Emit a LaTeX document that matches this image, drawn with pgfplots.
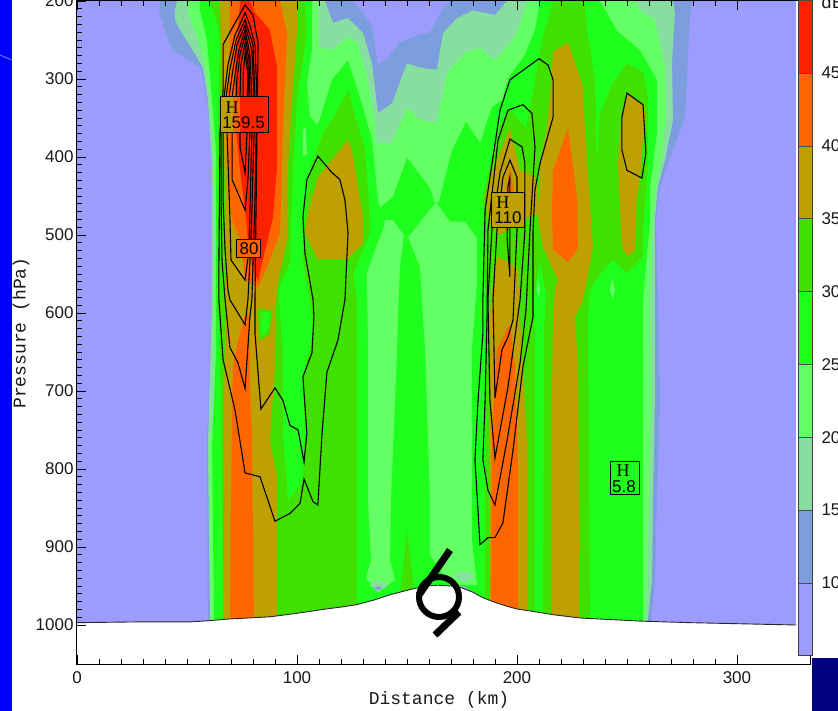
\documentclass[border=0pt]{standalone}
\usepackage{fontspec}
\usepackage{pgfplots}
\pgfplotsset{compat=1.18}
\setmainfont{Liberation Sans}
\newfontfamily\labfont{Liberation Mono}
\newfontfamily\hfont{Liberation Serif}
\definecolor{c05}{RGB}{156,156,255}
\definecolor{c10}{RGB}{124,158,222}
\definecolor{c15}{RGB}{134,222,160}
\definecolor{c20}{RGB}{100,255,100}
\definecolor{c25}{RGB}{30,255,30}
\definecolor{c30}{RGB}{64,224,0}
\definecolor{c35}{RGB}{190,160,0}
\definecolor{c40}{RGB}{255,102,0}
\definecolor{c45}{RGB}{255,34,0}
\newcommand\poly[2]{\addplot[fill=#1,draw=none,forget plot] coordinates {#2} -- cycle;}
\newcommand\cont[1]{\addplot[black,line width=1.1pt,forget plot] coordinates {#1} -- cycle;}
\newcommand\lab[4]{\addplot[draw=black,line width=0.9pt,forget plot] coordinates {(#1,#3)(#2,#3)(#2,#4)(#1,#4)} -- cycle;}
\newcommand\fs[1]{\fontsize{#1}{#1}\selectfont}
\begin{document}
\begin{tikzpicture}
\path[use as bounding box] (0,0) rectangle (838pt,711pt);
\clip (0,0) rectangle (838pt,711pt);
\fill[white] (0,0) rectangle (838pt,711pt);
\fill[blue] (0,0) rectangle (11.5pt,711pt);
\draw[color=blue!55!white,line width=1pt] (0,656pt) -- (11.5pt,651pt);
\fill[black!0!blue!50!black] (812pt,0) rectangle (838pt,53pt);
\begin{axis}[
  at={(77pt,47pt)},anchor=south west,scale only axis,width=733pt,height=663pt,
  xmin=0,xmax=333.2,ymin=200,ymax=1050,y dir=reverse,
  xtick={0,100,200,300},ytick={200,300,400,500,600,700,800,900,1000},
  minor x tick num=9,minor y tick num=9,
  tick align=inside,major tick length=9pt,minor tick length=5pt,
  tick style={black,line width=0.8pt},
  axis line style={black,line width=1pt},
  axis on top,no marks,
  tick label style={font=\fs{17},text=black!90},
  /pgf/number format/assume math mode=true,
  /pgf/number format/1000 sep={},
  xticklabel style={yshift=-4pt},
]
\poly{c05}{(0,200)(327,200)(327,1007)(0,1007)}
\poly{c10}{(37.7,200)(37.3,214)(43.2,263)(50,274)(56.4,286)(59.1,327)(61.8,413)(61.4,583)(59.1,769)(59.5,1007)(260.5,1007)(262.7,942)(263.6,840)(265,712)(264.1,583)(263.2,481)(265,438)(270.9,391)(276.4,349)(278.6,221)(279.5,200)(169.5,200)(166.4,209)(160.5,240)(153.6,245)(146.8,253)(141.4,272)(136.8,282)(134.1,233)(130,214)(125,200)}
\poly{c15}{(45.5,200)(44.5,212)(44.5,224)(47.7,241)(54.5,272)(57.3,286)(59.5,327)(61.4,413)(61.4,583)(59.5,769)(60.5,1007)(259,1007)(261.4,942)(261.8,840)(262.7,712)(262.7,583)(262.7,481)(264.1,438)(267.3,404)(270.9,353)(270.5,276)(271.8,215)(270.9,200)(195.5,200)(190,218)(180,212)(172.7,222)(166.4,241)(163.6,288)(156.8,286)(150,280)(143.2,331)(136.8,344)(134.1,280)(130,241)(123.2,222)(116.4,228)(112.7,200)}
\poly{c20}{(50.5,200)(50.5,215)(55.9,256)(58.2,285)(60.5,327)(62.3,413)(62.7,519)(61.8,583)(62.3,737)(60,769)(60.9,1007)(258.2,1007)(259.5,942)(260,840)(260.9,712)(260.5,583)(261.8,481)(263.6,433)(265.9,400)(267.7,349)(267.3,285)(262.7,224)(255.9,212)(253.6,200)(204.5,200)(202.3,224)(198.2,250)(190,276)(183.2,260)(176.4,267)(168.2,292)(163.6,356)(155.9,353)(150,336)(143.2,382)(136.4,382)(135.5,356)(131.8,297)(127.7,254)(123.2,246)(116.4,262)(110,260)(109.5,200)}
\poly{c25}{(55.9,200)(55.9,212)(59.1,250)(61.4,327)(63.2,391)(63.2,647)(61.4,769)(62.3,1007)(257.3,1007)(257.3,583)(260.5,481)(260.5,438)(263.6,369)(263.6,301)(255.9,263)(245.5,238)(237.7,200)(210.5,200)(208.2,237)(203.6,269)(195.9,299)(193.2,327)(188.6,336)(183.2,382)(176.8,355)(170.5,391)(167.3,426)(164.5,458)(162.3,458)(160.5,440)(150,401)(143.6,451)(137.7,465)(136.8,455)(134.1,378)(130,336)(123.2,276)(115.9,301)(109.5,359)(105.9,349)(104.5,305)(106.8,263)(106.8,200)}
\poly{c20}{(140,481)(143.6,481)(148.6,500)(146.8,541)(145.9,605)(145.5,647)(142.7,840)(142.3,917)(144.5,942)(136.8,958)(131.4,940)(133.6,917)(132.3,840)(132.3,647)(131.8,549)(136.8,509)(139.1,494)}
\poly{c20}{(163.2,458)(169.5,483)(176.4,483)(181.8,504)(181.8,561)(179.5,647)(179.5,891)(181.8,949)(169.5,949)(160.5,910)(160.5,840)(158.2,647)(155.9,541)(150.5,503)}
\poly{c20}{(102.7,365)(104,363)(104.5,398)(102.7,398)}
\poly{c15}{(133.2,949)(136.8,942)(141.4,949)(136.8,958)}
\poly{c10}{(134.9,953)(136.8,950)(138.6,953)(136.8,955)}
\poly{c15}{(170.5,937)(175.5,931)(180.9,937)(176.4,944)}
\poly{c05}{(172.3,950)(176.4,951)(179.5,958)(175.9,958)}
\poly{c30}{(60.5,200)(64.1,231)(65,254)(64.1,369)(64.1,583)(65.5,712)(65.9,840)(66.4,1007)(127.3,1007)(127.3,647)(127.3,583)(125.5,551)(133.2,497)(133.2,477)(130.9,391)(123.2,314)(117.3,346)(111.8,369)(105.9,417)(103.6,468)(102.7,536)(105.9,583)(107.3,628)(102.7,682)(103.6,754)(102.3,818)(95.9,840)(93.6,754)(93.6,647)(91.4,570)(96.8,536)(97.7,455)(98.2,413)(100,327)(104.5,241)(103.6,200)}
\poly{c30}{(185.5,1007)(185.5,583)(184.5,451)(187.7,410)(192.3,359)(196.8,337)(200,350)(204.1,363)(207.3,314)(211.8,246)(216.4,200)(230.9,200)(231.8,237)(235.5,301)(236.4,408)(237.7,344)(243.6,305)(250,280)(257.3,291)(259.5,323)(259.5,408)(257.3,494)(257.3,528)(250,549)(243.6,532)(239.1,545)(233.2,570)(232.3,600)(233.2,1007)}
\poly{c25}{(210.5,535)(213.2,577)(212.3,622)(211.8,1007)(208.2,1007)(208.2,635)(207.3,583)}
\poly{c20}{(209,570)(209.5,554)(210.5,570)(209.9,580)}
\poly{c20}{(242.3,570)(243.2,555)(244.5,570)(243.6,583)}
\poly{c30}{(150,878)(152.3,929)(153.2,962)(146.8,962)(148.2,929)}
\poly{c35}{(65,200)(65.5,254)(65.9,327)(67.3,442)(67.7,583)(66.8,712)(66.8,1007)(90.9,1007)(90.9,810)(87.7,763)(90,669)(90.5,583)(91.4,561)(95.5,506)(95.9,413)(97.7,327)(100,241)(100,200)}
\poly{c30}{(82.3,594)(89.1,597)(87.3,628)(82.7,636)}
\poly{c25}{(83.6,597)(88.2,601)(86.4,624)(83.6,629)}
\poly{c35}{(123.2,378)(109.5,426)(105,472)(103.6,497)(109.5,532)(122.7,532)(130,510)(130,477)(125,391)}
\poly{c35}{(196.8,363)(187.7,426)(185.5,451)(187.7,487)(192.3,500)(203,480)(209.5,473)(209.5,427)(201.4,417)(199,390)}
\poly{c35}{(190.9,528)(187.7,596)(187.7,1007)(205,1007)(205,797)(203.6,712)(201.4,609)(200.5,545)(196.8,535)}
\poly{c35}{(223.2,253)(216.4,265)(215.9,292)(213.6,365)(210.5,408)(209.5,474)(210.5,494)(211.8,515)(218.6,558)(217.3,570)(216.4,596)(215.9,712)(215.9,1007)(228.6,1007)(228.6,917)(227.7,669)(226.4,605)(230,583)(233.2,536)(234.5,515)(230.9,365)(230,310)}
\poly{c35}{(250.5,318)(247.7,344)(245.9,408)(247.7,515)(250.5,528)(253.6,519)(254.5,451)(255.9,429)(258.2,344)(257.3,333)}
\poly{c40}{(69.5,200)(69.5,241)(68.6,327)(68.6,442)(70.5,481)(74.1,506)(76.4,558)(82.3,567)(87.7,532)(92.3,497)(93.6,369)(95.5,241)(92.3,200)}
\poly{c40}{(77.3,594)(73.2,635)(70.9,669)(70.5,712)(69.5,1007)(80.5,1007)(79.5,754)(78.6,690)(78.6,609)}
\poly{c40}{(196.8,412)(195,446)(198.6,446)}
\poly{c40}{(196.8,613)(199.1,669)(200.5,797)(200.5,1007)(188.2,1007)(188.6,754)(190.9,647)}
\poly{c40}{(223.2,362)(216.4,417)(215.9,472)(216.4,519)(223.2,535)(227.7,517)(227.3,451)}
\poly{c45}{(74.1,200)(73.2,237)(71.8,288)(72.3,365)(74.1,417)(76.4,468)(77.7,506)(79.5,539)(82.3,559)(84.1,536)(89.1,477)(90.9,413)(90.9,285)(87.7,237)(80.9,215)(78.6,200)}
% terrain
\addplot[fill=white,draw=none,forget plot] coordinates {(0,997)(28.6,996)(51.4,996)(60,994.5)(68,992.5)(78,991)(87.7,989.5)(100,985)(111.8,980)(120,977)(127,974)(135,968)(142,961.5)(148,957)(154.5,952.5)(159,950)(164,949)(170,950)(175,952.5)(180,958)(184.5,965)(190,971)(195.5,976)(200,979.5)(206,982)(217,987)(228.6,991)(256,995)(278.6,997)(327,1000)(327,1051)(0,1051)} -- cycle;
\addplot[black!85,line width=0.9pt,forget plot] coordinates {(0,997)(28.6,996)(51.4,996)(60,994.5)(68,992.5)(78,991)(87.7,989.5)(100,985)(111.8,980)(120,977)(127,974)(135,968)(142,961.5)(148,957)(154.5,952.5)(159,950)(164,949)(170,950)(175,952.5)(180,958)(184.5,965)(190,971)(195.5,976)(200,979.5)(206,982)(217,987)(228.6,991)(256,995)(278.6,997)(327,1000)};
% contours, right column
\cont{(183.2,897)(180.9,788)(182.3,712)(184.5,626)(184.5,583)(185.5,468)(192.3,340)(196.8,301)(210,274)(214.1,282)(216.4,301)(216.4,349)(210.5,408)(208.2,442)(207.3,494)(207.3,596)(207.3,605)(202.7,669)(198.2,776)(193.6,869)(190,888)(186.8,888)}
\cont{(195.9,340)(202.7,333)(206.8,344)(208.2,387)(205.9,494)(204.1,596)(201.4,664)(195.5,763)(190,846)(186.8,827)(184.5,788)(185.5,712)(186.4,605)(186.8,494)(191.4,378)}
\cont{(196.8,377)(202.3,387)(203.6,408)(203.6,494)(201.4,583)(195.9,695)(190,786)(187.7,712)(186.8,583)(188.6,494)(192.3,420)}
\cont{(196.8,404)(200,426)(200,494)(198.2,609)(195.9,631)(193.2,647)(190,709)(189.1,583)(190.9,494)(193.6,426)}
\cont{(196.8,426)(196.8,554)(195.5,503)(195.9,438)}
\cont{(250,318)(257.3,333)(258.6,395)(256.8,427)(250,417)(247.7,391)(247.7,349)}
% contours, left column
\cont{(76.4,205)(70.5,235)(66.4,256)(66.4,314)(65,369)(64.5,541)(64.5,583)(66.4,660)(71.8,724)(76.4,805)(83.2,810)(90,867)(96.8,857)(101.4,844)(103.2,813)(107.3,842)(109.5,846)(111.4,754)(113.6,676)(118.6,635)(121.8,583)(123.2,497)(121.8,455)(119.5,429)(115.9,420)(109.5,399)(104.5,429)(102.7,477)(103.6,523)(107.3,583)(107.7,605)(106.8,651)(102.7,682)(104.5,754)(103.2,791)(100.5,750)(96.8,744)(93.6,712)(90,696)(83.6,723)(80.9,626)(80.9,583)(82.3,254)(80,218)}
\cont{(76.4,215)(71.8,244)(68.6,282)(66.8,324)(65.5,369)(65.5,455)(65.9,532)(67.3,583)(69.5,644)(73.2,664)(76.4,697)(78.6,605)(79.5,583)(80.9,455)(81.8,324)(80.9,256)(78.6,231)}
\cont{(76.4,224)(72.3,250)(69.5,288)(67.7,324)(66.4,369)(66.4,455)(67.3,519)(68.6,570)(69.5,583)(76.4,615)(77.7,583)(79.1,506)(80.5,369)(80.9,324)(80,256)}
\cont{(76.4,231)(72.7,256)(70.5,295)(69.1,324)(68.2,369)(69.5,477)(70,532)(76.4,558)(78.2,519)(79.5,369)(80.5,324)(79.5,263)}
\cont{(76.4,237)(73.6,263)(71.8,295)(70.5,324)(70.5,382)(70.5,429)(76.4,468)(77.7,429)(78.6,369)(79.5,324)(78.6,269)}
\cont{(76.4,244)(74.1,269)(72.7,301)(72.3,324)(74.1,369)(74.1,387)(76.4,420)(77.3,369)(78.6,324)(78.2,276)}
\cont{(76.4,254)(74.5,282)(74.1,324)(75.5,359)(77.3,359)(78.2,324)(77.7,282)}
\cont{(76.4,267)(75.5,295)(75.5,340)(77.3,340)(77.7,295)}
% label boxes
\poly{c35}{(65,323)(70.9,323)(70.9,368)(65,368)}
\poly{c40}{(70.9,323)(74.1,323)(74.1,368)(70.9,368)}
\poly{c45}{(74.1,323)(86.8,323)(86.8,368)(74.1,368)}
\lab{65}{86.8}{323}{368}
\node[font=\hfont\fs{18}] at (axis cs:70.5,337) {H};
\node[font=\fs{17}] at (axis cs:75.7,356) {159.5};
\poly{c40}{(72.7,506)(83.6,506)(83.6,529)(72.7,529)}
\lab{72.7}{83.6}{506}{529}
\node[font=\fs{17}] at (axis cs:78.2,517.5) {80};
\poly{c35}{(188.6,446)(203.2,446)(203.2,490)(188.6,490)}
\lab{188.6}{203.2}{446}{490}
\node[font=\hfont\fs{18}] at (axis cs:193.6,458) {H};
\node[font=\fs{17}] at (axis cs:195.9,478) {110};
\poly{c25}{(242.3,790)(255.5,790)(255.5,833)(242.3,833)}
\lab{242.3}{255.5}{790}{833}
\node[font=\hfont\fs{18}] at (axis cs:248.2,802) {H};
\node[font=\fs{17}] at (axis cs:248.6,822) {5.8};
\end{axis}
\begin{axis}[
  at={(798pt,55pt)},anchor=south west,scale only axis,width=14pt,height=656pt,
  xmin=0,xmax=1,ymin=5,ymax=50,xtick=\empty,
  ytick={10,15,20,25,30,35,40,45},yticklabel pos=right,
  tick style={draw=none},major tick length=0pt,
  axis line style={black!75,line width=1pt},axis on top,
  tick label style={font=\fs{17},text=black!90},
  yticklabel style={xshift=6pt},
  /pgf/number format/assume math mode=true,
  clip=true,
]
\addplot[fill=c05,draw=black!70,forget plot] coordinates {(0,5)(1,5)(1,10)(0,10)} -- cycle;
\addplot[fill=c10,draw=black!70,forget plot] coordinates {(0,10)(1,10)(1,15)(0,15)} -- cycle;
\addplot[fill=c15,draw=black!70,forget plot] coordinates {(0,15)(1,15)(1,20)(0,20)} -- cycle;
\addplot[fill=c20,draw=black!70,forget plot] coordinates {(0,20)(1,20)(1,25)(0,25)} -- cycle;
\addplot[fill=c25,draw=black!70,forget plot] coordinates {(0,25)(1,25)(1,30)(0,30)} -- cycle;
\addplot[fill=c30,draw=black!70,forget plot] coordinates {(0,30)(1,30)(1,35)(0,35)} -- cycle;
\addplot[fill=c35,draw=black!70,forget plot] coordinates {(0,35)(1,35)(1,40)(0,40)} -- cycle;
\addplot[fill=c40,draw=black!70,forget plot] coordinates {(0,40)(1,40)(1,45)(0,45)} -- cycle;
\addplot[fill=c45,draw=black!70,forget plot] coordinates {(0,45)(1,45)(1,50)(0,50)} -- cycle;
\end{axis}
\node[anchor=west,font=\labfont\fs{18},inner sep=0pt,text=black!90] at (821pt,709pt) {dBZ};
\node[font=\labfont\fs{18},text=black!90] at (439pt,11pt) {Distance (km)};
\node[font=\labfont\fs{18},rotate=90,text=black!90] at (21pt,378pt) {Pressure (hPa)};
% storm symbol
\draw[black,line width=6pt] (439pt,114pt) circle (20pt);
\draw[black,line width=7pt] (450pt,161pt) -- (419pt,116pt);
\draw[black,line width=7pt] (459pt,99pt) -- (435pt,76pt);
\end{tikzpicture}
\end{document}
